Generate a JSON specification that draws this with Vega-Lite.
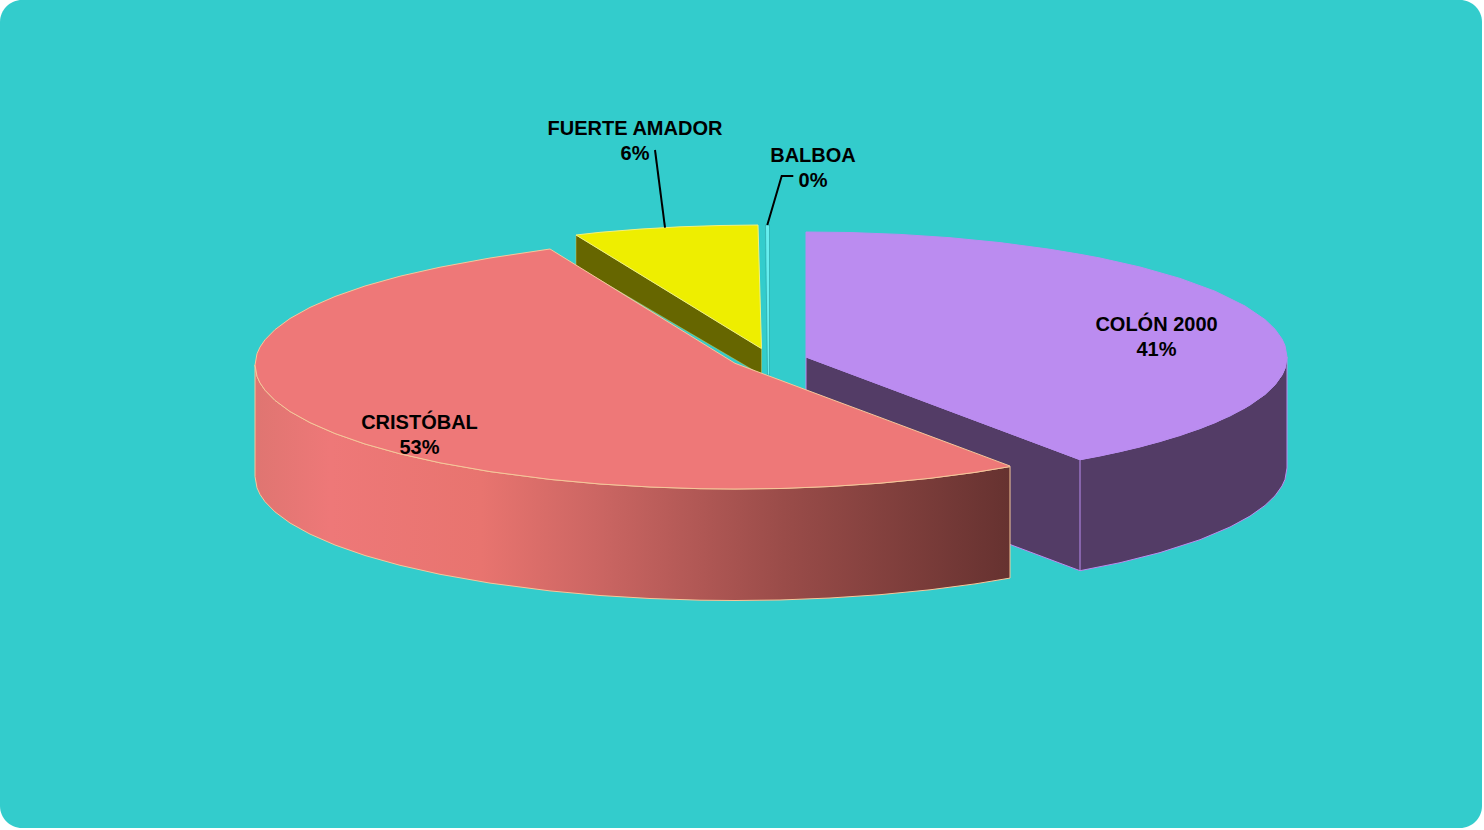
{
"$schema":"https://vega.github.io/schema/vega-lite/v6.json",
"width":1482,"height":828,
"autosize":{"type":"none"},
"padding":{"left":0,"top":0,"right":2,"bottom":2},
"background":"#FFFFFF",
"view":{"fill":"#33CCCC","stroke":null,"cornerRadius":22},
"datasets":{
"shape":[
{"part":"colonSide","x":806,"y":357,"y2":468},{"part":"colonSide","x":1080,"y":459.7,"y2":570.7},{"part":"colonSide","x":1120,"y":451.7,"y2":562.7},{"part":"colonSide","x":1160,"y":441.6,"y2":552.6},{"part":"colonSide","x":1200,"y":428.7,"y2":539.7},{"part":"colonSide","x":1230,"y":416,"y2":527},{"part":"colonSide","x":1250,"y":405.1,"y2":516.1},{"part":"colonSide","x":1265,"y":394.4,"y2":505.4},{"part":"colonSide","x":1275,"y":384.8,"y2":495.8},{"part":"colonSide","x":1282,"y":375,"y2":486},{"part":"colonSide","x":1285,"y":368.4,"y2":479.4},{"part":"colonSide","x":1287,"y":357,"y2":468},
{"part":"colonTop","x":806,"y":232,"y2":357},{"part":"colonTop","x":850,"y":232.5,"y2":373.5},{"part":"colonTop","x":900,"y":234.4,"y2":392.2},{"part":"colonTop","x":950,"y":237.7,"y2":411},{"part":"colonTop","x":1000,"y":242.6,"y2":429.7},{"part":"colonTop","x":1050,"y":249.3,"y2":448.4},{"part":"colonTop","x":1080,"y":254.3,"y2":459.7},{"part":"colonTop","x":1100,"y":258,"y2":456},{"part":"colonTop","x":1140,"y":267,"y2":447},{"part":"colonTop","x":1180,"y":278.4,"y2":435.6},{"part":"colonTop","x":1215,"y":291.2,"y2":422.8},{"part":"colonTop","x":1245,"y":306,"y2":408},{"part":"colonTop","x":1265,"y":319.6,"y2":394.4},{"part":"colonTop","x":1275,"y":329.2,"y2":384.8},{"part":"colonTop","x":1282,"y":339,"y2":375},{"part":"colonTop","x":1285,"y":345.6,"y2":368.4},{"part":"colonTop","x":1287,"y":357,"y2":357},
{"part":"amadorSide","x":576,"y":235,"y2":266},{"part":"amadorSide","x":761.5,"y":348.5,"y2":375},
{"part":"amadorTop","x":576,"y":235,"y2":235},{"part":"amadorTop","x":600,"y":232.3,"y2":249.7},{"part":"amadorTop","x":640,"y":229.1,"y2":274.2},{"part":"amadorTop","x":680,"y":226.8,"y2":298.7},{"part":"amadorTop","x":720,"y":225.5,"y2":323.3},{"part":"amadorTop","x":758,"y":225,"y2":346.5},{"part":"amadorTop","x":761.5,"y":348.5,"y2":348.5},
{"part":"balboa","x":765.5,"y":225,"y2":228},{"part":"balboa","x":767.5,"y":225,"y2":375},{"part":"balboa","x":769.5,"y":225,"y2":375},
{"part":"cristobalSide","x":255,"y":365,"y2":476.5},{"part":"cristobalSide","x":257,"y":376.3,"y2":487.8},{"part":"cristobalSide","x":260,"y":382.9,"y2":494.4},{"part":"cristobalSide","x":265,"y":390.2,"y2":501.7},{"part":"cristobalSide","x":275,"y":400.4,"y2":511.9},{"part":"cristobalSide","x":290,"y":411.5,"y2":523},{"part":"cristobalSide","x":310,"y":422.6,"y2":534.1},{"part":"cristobalSide","x":335,"y":433.5,"y2":545},{"part":"cristobalSide","x":365,"y":444,"y2":555.5},{"part":"cristobalSide","x":400,"y":453.8,"y2":565.3},{"part":"cristobalSide","x":440,"y":462.8,"y2":574.3},{"part":"cristobalSide","x":490,"y":471.6,"y2":583.1},{"part":"cristobalSide","x":550,"y":479.4,"y2":590.9},{"part":"cristobalSide","x":600,"y":484,"y2":595.5},{"part":"cristobalSide","x":650,"y":487,"y2":598.5},{"part":"cristobalSide","x":700,"y":488.7,"y2":600.2},{"part":"cristobalSide","x":735,"y":489,"y2":600.5},{"part":"cristobalSide","x":780,"y":488.5,"y2":600},{"part":"cristobalSide","x":830,"y":486.5,"y2":598},{"part":"cristobalSide","x":880,"y":483.2,"y2":594.7},{"part":"cristobalSide","x":930,"y":478.3,"y2":589.8},{"part":"cristobalSide","x":975,"y":472.4,"y2":583.9},{"part":"cristobalSide","x":1010,"y":466.6,"y2":578.1},
{"part":"cristobalTop","x":255,"y":365,"y2":365},{"part":"cristobalTop","x":257,"y":353.7,"y2":376.3},{"part":"cristobalTop","x":260,"y":347.1,"y2":382.9},{"part":"cristobalTop","x":265,"y":339.8,"y2":390.2},{"part":"cristobalTop","x":275,"y":329.6,"y2":400.4},{"part":"cristobalTop","x":290,"y":318.5,"y2":411.5},{"part":"cristobalTop","x":310,"y":307.4,"y2":422.6},{"part":"cristobalTop","x":335,"y":296.5,"y2":433.5},{"part":"cristobalTop","x":365,"y":286,"y2":444},{"part":"cristobalTop","x":400,"y":276.2,"y2":453.8},{"part":"cristobalTop","x":440,"y":267.2,"y2":462.8},{"part":"cristobalTop","x":490,"y":258,"y2":471.6},{"part":"cristobalTop","x":550,"y":249,"y2":479.4},{"part":"cristobalTop","x":600,"y":279.9,"y2":484},{"part":"cristobalTop","x":650,"y":310.8,"y2":487},{"part":"cristobalTop","x":700,"y":341.7,"y2":488.7},{"part":"cristobalTop","x":735,"y":363.3,"y2":489},{"part":"cristobalTop","x":780,"y":380.1,"y2":488.5},{"part":"cristobalTop","x":830,"y":398.8,"y2":486.5},{"part":"cristobalTop","x":880,"y":417.4,"y2":483.2},{"part":"cristobalTop","x":930,"y":436.1,"y2":478.3},{"part":"cristobalTop","x":975,"y":452.9,"y2":472.4},{"part":"cristobalTop","x":1010,"y":466,"y2":466.6}
],
"leaders":[
{"leader":"amador","step":1,"x":655,"y":150},{"leader":"amador","step":2,"x":665,"y":227.7},
{"leader":"balboa","step":1,"x":793.3,"y":176},{"leader":"balboa","step":2,"x":781.7,"y":176},{"leader":"balboa","step":3,"x":767.3,"y":225}
],
"slices":[
{"slice":"CRISTÓBAL","share":53,"text":"CRISTÓBAL\n53%","x":419.5,"y":423},
{"slice":"COLÓN 2000","share":41,"text":"COLÓN 2000\n41%","x":1156.5,"y":325},
{"slice":"FUERTE AMADOR","share":6,"text":"FUERTE AMADOR\n6%","x":635,"y":129},
{"slice":"BALBOA","share":0,"text":"BALBOA\n0%","x":813,"y":156}
]
},
"data":{"name":"shape"},
"encoding":{
"x":{"field":"x","type":"quantitative","scale":{"domain":[0,1482],"nice":false,"zero":false},"axis":null},
"y":{"field":"y","type":"quantitative","scale":{"domain":[828,0],"nice":false,"zero":false},"axis":null}
},
"layer":[
{"transform":[{"filter":"datum.part==='colonSide'"}],"mark":{"type":"area","fill":"#533C66","stroke":"#BB8CF0","strokeWidth":1},"encoding":{"y2":{"field":"y2"}}},
{"transform":[{"filter":"datum.part==='colonSide'&&datum.x===1080"}],"mark":{"type":"rule","stroke":"#BB8CF0","strokeWidth":1},"encoding":{"y2":{"field":"y2"}}},
{"transform":[{"filter":"datum.part==='colonTop'"}],"mark":{"type":"area","fill":"#BB8CF0","stroke":"#BB8CF0","strokeWidth":1},"encoding":{"y2":{"field":"y2"}}},
{"transform":[{"filter":"datum.part==='amadorSide'"}],"mark":{"type":"area","fill":"#666600","stroke":"#C8C860","strokeWidth":0.5},"encoding":{"y2":{"field":"y2"}}},
{"transform":[{"filter":"datum.part==='amadorTop'"}],"mark":{"type":"area","fill":"#EEEE00","stroke":"#F2F080","strokeWidth":1},"encoding":{"y2":{"field":"y2"}}},
{"transform":[{"filter":"datum.part==='balboa'"}],"mark":{"type":"area","fill":"#66EEEE","stroke":"#1F8F92","strokeWidth":0.5},"encoding":{"y2":{"field":"y2"}}},
{"transform":[{"filter":"datum.part==='cristobalSide'"}],"mark":{"type":"area","stroke":"#F6C79A","strokeWidth":1,"fill":{"gradient":"linear","x1":0,"y1":0,"x2":1,"y2":0,"stops":[{"offset":0,"color":"#DF7571"},{"offset":0.1,"color":"#EE7878"},{"offset":0.3,"color":"#E8746F"},{"offset":0.45,"color":"#CC6663"},{"offset":0.7,"color":"#9A4C49"},{"offset":1,"color":"#663230"}]}},"encoding":{"y2":{"field":"y2"}}},
{"transform":[{"filter":"datum.part==='cristobalTop'"}],"mark":{"type":"area","fill":"#EE7878","stroke":"#F6C79A","strokeWidth":1},"encoding":{"y2":{"field":"y2"}}},
{"data":{"name":"leaders"},"mark":{"type":"line","stroke":"#000000","strokeWidth":2},"encoding":{"detail":{"field":"leader"},"order":{"field":"step","type":"ordinal"}}},
{"data":{"name":"slices"},"mark":{"type":"text","font":"Liberation Sans","fontWeight":"bold","fontSize":20,"lineBreak":"\n","lineHeight":25,"align":"center","baseline":"middle","color":"#000000"},"encoding":{"text":{"field":"text"}}}
]
}
